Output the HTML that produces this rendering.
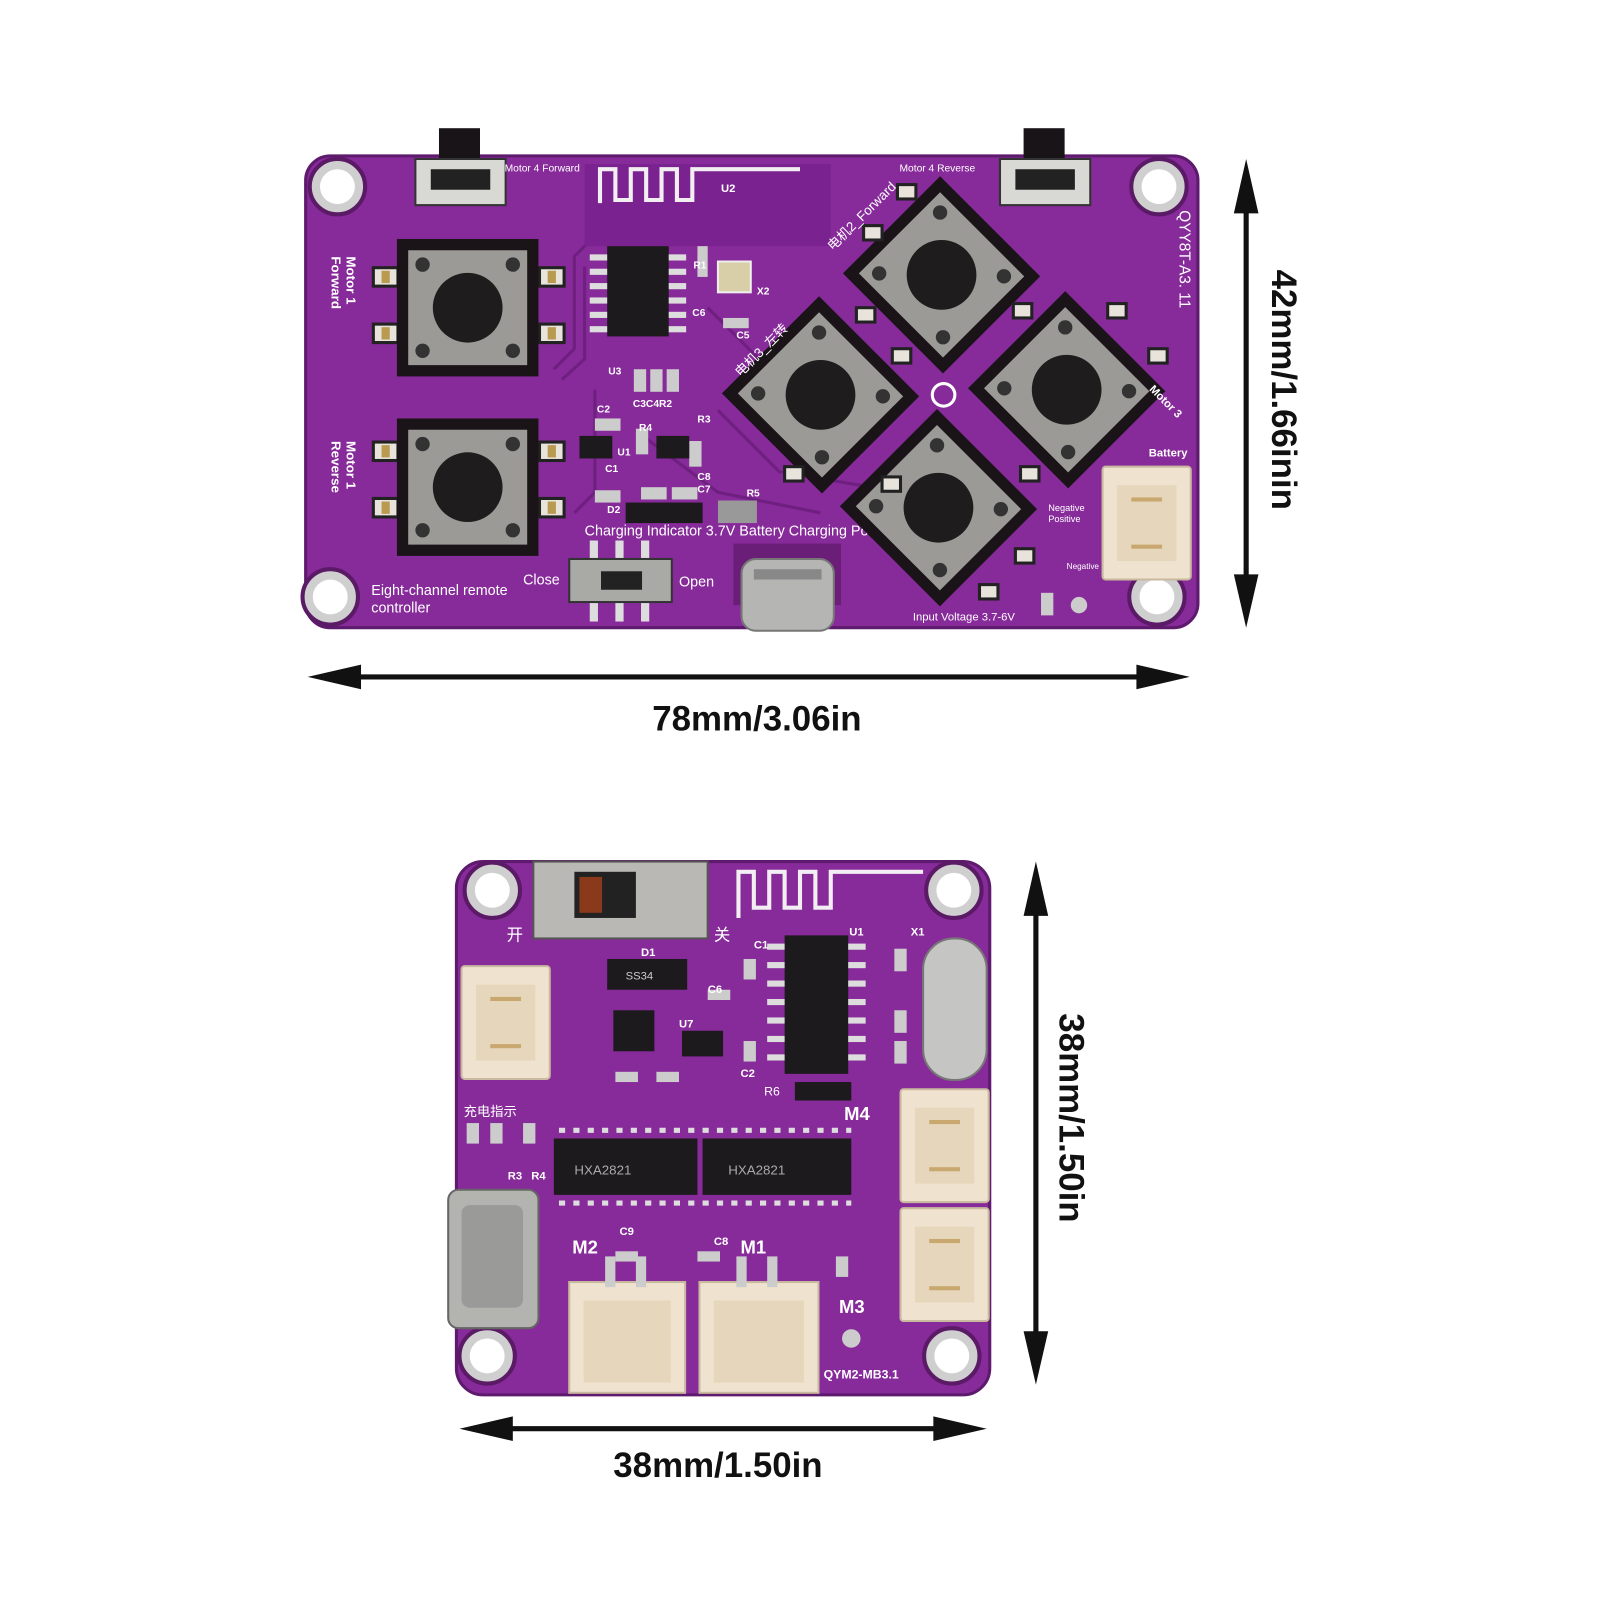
<!DOCTYPE html>
<html><head><meta charset="utf-8"><style>
html,body{margin:0;padding:0;background:#fff;width:1600px;height:1600px;overflow:hidden}
svg{display:block}
text{font-family:"Liberation Sans","Noto Sans CJK SC",sans-serif}
</style></head><body>
<svg width="1600" height="1600" viewBox="0 0 1560 1560" xmlns="http://www.w3.org/2000/svg">
<defs>
<g id="btn">
  <rect x="-69" y="-67" width="138" height="134" fill="#1a1418"/>
  <rect x="-58" y="-56" width="116" height="112" fill="#9c9a96"/>
  <circle cx="-44" cy="-42" r="7" fill="#333"/><circle cx="44" cy="-42" r="7" fill="#333"/>
  <circle cx="-44" cy="42" r="7" fill="#333"/><circle cx="44" cy="42" r="7" fill="#333"/>
  <circle cx="0" cy="0" r="34" fill="#1e1c1c"/>
</g>
<g id="pad"><rect x="-12" y="-9" width="24" height="18" fill="#e8e4dc" stroke="#222" stroke-width="3"/><rect x="-4" y="-6" width="8" height="12" fill="#b89a50"/></g>
<g id="hole"><circle r="27" fill="#cfcfcf" stroke="#5a1a66" stroke-width="4"/><circle r="17" fill="#fff"/></g>
<g id="conn"><rect x="0" y="0" width="86" height="110" rx="3" fill="#efe3cf" stroke="#c9b99e" stroke-width="2"/><rect x="14" y="18" width="58" height="74" fill="#e6d6bb"/><rect x="28" y="30" width="30" height="4" fill="#c9a870"/><rect x="28" y="76" width="30" height="4" fill="#c9a870"/></g>
</defs>

<!-- TOP BOARD -->
<rect x="298" y="152" width="870" height="460" rx="24" fill="#872a9a" stroke="#5e1a6c" stroke-width="3"/>
<g stroke="#6f1f80" stroke-width="3" fill="none">
  <path d="M540 360 L560 340 L560 250 L580 230"/><path d="M548 370 L570 350 L570 260"/>
  <path d="M560 500 L580 480 L580 380"/><path d="M700 400 L760 460 L1000 500"/>
  <path d="M690 300 L740 350"/><path d="M620 420 L700 480 L800 500"/>
</g>
<use href="#hole" x="329" y="182"/><use href="#hole" x="1130" y="182"/>
<use href="#hole" x="322" y="582"/><use href="#hole" x="1128" y="582"/>
<!-- antenna -->
<rect x="570" y="160" width="240" height="80" fill="#7a2390"/>
<path d="M585 198 V165 H600 V195 H615 V165 H630 V195 H645 V165 H660 V195 H675 V165 H780" stroke="#f2eef2" stroke-width="4" fill="none"/>
<text x="703" y="187" font-size="11" fill="#fff" font-weight="bold">U2</text>
<!-- small side switches -->
<rect x="428" y="125" width="40" height="32" fill="#181418"/>
<rect x="405" y="155" width="88" height="45" fill="#d8d8d4" stroke="#333" stroke-width="2"/>
<rect x="420" y="165" width="58" height="20" fill="#222"/>
<rect x="998" y="125" width="40" height="32" fill="#181418"/>
<rect x="975" y="155" width="88" height="45" fill="#d8d8d4" stroke="#333" stroke-width="2"/>
<rect x="990" y="165" width="58" height="20" fill="#222"/>
<text x="492" y="167" font-size="10" fill="#fff">Motor 4 Forward</text>
<text x="877" y="167" font-size="10" fill="#fff">Motor 4 Reverse</text>
<!-- left buttons -->
<use href="#pad" x="376" y="270"/><use href="#pad" x="376" y="325"/><use href="#pad" x="538" y="270"/><use href="#pad" x="538" y="325"/>
<use href="#btn" x="456" y="300"/>
<use href="#pad" x="376" y="440"/><use href="#pad" x="376" y="495"/><use href="#pad" x="538" y="440"/><use href="#pad" x="538" y="495"/>
<use href="#btn" x="456" y="475"/>
<text transform="translate(338,250) rotate(90)" font-size="13" fill="#fff" font-weight="bold">Motor 1</text>
<text transform="translate(323,250) rotate(90)" font-size="13" fill="#fff" font-weight="bold">Forward</text>
<text transform="translate(338,430) rotate(90)" font-size="13" fill="#fff" font-weight="bold">Motor 1</text>
<text transform="translate(323,430) rotate(90)" font-size="13" fill="#fff" font-weight="bold">Reverse</text>
<!-- IC -->
<rect x="592" y="240" width="60" height="88" fill="#1c1a1c"/>
<g fill="#ddd"><rect x="575" y="248" width="17" height="6"/><rect x="575" y="262" width="17" height="6"/><rect x="575" y="276" width="17" height="6"/><rect x="575" y="290" width="17" height="6"/><rect x="575" y="304" width="17" height="6"/><rect x="575" y="318" width="17" height="6"/>
<rect x="652" y="248" width="17" height="6"/><rect x="652" y="262" width="17" height="6"/><rect x="652" y="276" width="17" height="6"/><rect x="652" y="290" width="17" height="6"/><rect x="652" y="304" width="17" height="6"/><rect x="652" y="318" width="17" height="6"/></g>
<rect x="700" y="255" width="32" height="30" fill="#d8cfa8" stroke="#eee" stroke-width="2"/>
<g fill="#ccc"><rect x="680" y="240" width="10" height="30"/><rect x="705" y="310" width="25" height="10"/><rect x="618" y="360" width="12" height="22"/><rect x="634" y="360" width="12" height="22"/><rect x="650" y="360" width="12" height="22"/><rect x="580" y="408" width="25" height="12"/><rect x="580" y="478" width="25" height="12"/><rect x="620" y="418" width="12" height="25"/><rect x="672" y="430" width="12" height="25"/><rect x="625" y="475" width="25" height="12"/><rect x="655" y="475" width="25" height="12"/></g>
<rect x="565" y="425" width="32" height="22" fill="#1c1a1c"/><rect x="640" y="425" width="32" height="22" fill="#1c1a1c"/>
<rect x="610" y="490" width="75" height="20" fill="#1c1a1c"/><rect x="700" y="488" width="38" height="22" fill="#999"/>
<g font-size="10" fill="#fff" font-weight="bold"><text x="593" y="365">U3</text><text x="617" y="397">C3C4R2</text><text x="582" y="402">C2</text><text x="623" y="420">R4</text><text x="680" y="412">R3</text><text x="602" y="444">U1</text><text x="590" y="460">C1</text><text x="680" y="468">C8</text><text x="680" y="480">C7</text><text x="728" y="484">R5</text><text x="592" y="500">D2</text><text x="676" y="262">R1</text><text x="675" y="308">C6</text><text x="718" y="330">C5</text><text x="738" y="287">X2</text></g>
<text x="570" y="522" font-size="14" fill="#fff">Charging Indicator 3.7V Battery Charging Port</text>
<!-- slide switch -->
<g fill="#ddd"><rect x="575" y="527" width="8" height="20"/><rect x="600" y="527" width="8" height="20"/><rect x="625" y="527" width="8" height="20"/><rect x="575" y="586" width="8" height="20"/><rect x="600" y="586" width="8" height="20"/><rect x="625" y="586" width="8" height="20"/></g>
<rect x="555" y="545" width="100" height="42" fill="#a9a9a6" stroke="#333" stroke-width="2"/>
<rect x="586" y="557" width="40" height="18" fill="#222"/>
<text x="510" y="570" font-size="14" fill="#fff">Close</text><text x="662" y="572" font-size="14" fill="#fff">Open</text>
<text x="362" y="580" font-size="14" fill="#fff">Eight-channel remote</text><text x="362" y="597" font-size="14" fill="#fff">controller</text>
<!-- USB-C -->
<rect x="715" y="530" width="105" height="60" fill="#6a1e78"/>
<rect x="723" y="545" width="90" height="70" rx="14" fill="#b5b5b3" stroke="#777" stroke-width="2"/>
<rect x="735" y="555" width="66" height="10" fill="#888"/>
<!-- diamond buttons -->
<g transform="translate(918,268) rotate(45)"><use href="#btn"/></g>
<g transform="translate(800,385) rotate(45)"><use href="#btn"/></g>
<g transform="translate(1040,380) rotate(45)"><use href="#btn"/></g>
<g transform="translate(915,495) rotate(45)"><use href="#btn"/></g>
<circle cx="920" cy="385" r="11" fill="none" stroke="#fff" stroke-width="3"/>
<g fill="#e8e4dc" stroke="#222" stroke-width="3"><rect x="842" y="220" width="18" height="14"/><rect x="988" y="296" width="18" height="14"/><rect x="1080" y="296" width="18" height="14"/><rect x="765" y="455" width="18" height="14"/><rect x="835" y="300" width="18" height="14"/><rect x="1120" y="340" width="18" height="14"/><rect x="995" y="455" width="18" height="14"/><rect x="875" y="180" width="18" height="14"/><rect x="955" y="570" width="18" height="14"/><rect x="990" y="535" width="18" height="14"/><rect x="870" y="340" width="18" height="14"/><rect x="860" y="465" width="18" height="14"/></g>
<text transform="translate(1150,205) rotate(90)" font-size="15" fill="#fff" font-family="Liberation Serif,serif">QYY8T-A3. 11</text>
<text transform="translate(812,245) rotate(-45)" font-size="13" fill="#fff">电机2_Forward</text>
<text transform="translate(722,368) rotate(-45)" font-size="13" fill="#fff">电机3_左转</text>
<text transform="translate(1120,380) rotate(45)" font-size="11" fill="#fff" font-weight="bold">Motor 3</text>
<text x="1120" y="445" font-size="11" fill="#fff" font-weight="bold">Battery</text>
<text x="1022" y="498" font-size="9" fill="#fff">Negative</text><text x="1022" y="509" font-size="9" fill="#fff">Positive</text>
<text x="1040" y="555" font-size="8" fill="#fff">Negative</text>
<text x="890" y="605" font-size="11" fill="#fff">Input Voltage 3.7-6V</text>
<rect x="1015" y="578" width="12" height="22" fill="#ccc"/><circle cx="1052" cy="590" r="8" fill="#ccc"/>
<use href="#conn" x="1075" y="455" transform="translate(0,0)"/>

<!-- TOP ARROWS -->
<line x1="330" y1="660" x2="1130" y2="660" stroke="#111" stroke-width="5"/>
<polygon points="300,660 352,648 352,672" fill="#111"/><polygon points="1160,660 1108,648 1108,672" fill="#111"/>
<text x="738" y="712" font-size="34" font-weight="bold" text-anchor="middle" fill="#111">78mm/3.06in</text>
<line x1="1215" y1="185" x2="1215" y2="585" stroke="#111" stroke-width="5"/>
<polygon points="1215,155 1203,208 1227,208" fill="#111"/><polygon points="1215,612 1203,560 1227,560" fill="#111"/>
<text transform="translate(1240,380) rotate(90)" font-size="34" font-weight="bold" text-anchor="middle" fill="#111">42mm/1.66inin</text>

<!-- BOTTOM BOARD -->
<rect x="445" y="840" width="520" height="520" rx="26" fill="#872a9a" stroke="#5e1a6c" stroke-width="3"/>
<use href="#hole" x="480" y="868"/><use href="#hole" x="930" y="868"/><use href="#hole" x="475" y="1322"/><use href="#hole" x="928" y="1322"/>
<rect x="520" y="840" width="170" height="75" fill="#b9b8b5" stroke="#555" stroke-width="2"/>
<rect x="560" y="850" width="60" height="45" fill="#222"/><rect x="565" y="855" width="22" height="35" fill="#8a3a1a"/>
<text x="494" y="917" font-size="16" fill="#fff">开</text><text x="696" y="917" font-size="16" fill="#fff">关</text>
<path d="M720 895 V850 H735 V885 H750 V850 H765 V885 H780 V850 H795 V885 H810 V850 H900" stroke="#f2eef2" stroke-width="4" fill="none"/>
<rect x="592" y="935" width="78" height="30" fill="#1c1a1c"/><text x="610" y="955" font-size="11" fill="#ccc">SS34</text>
<use href="#conn" x="450" y="942"/>
<rect x="765" y="912" width="62" height="135" fill="#1c1a1c"/>
<g fill="#ddd"><rect x="748" y="920" width="17" height="6"/><rect x="748" y="938" width="17" height="6"/><rect x="748" y="956" width="17" height="6"/><rect x="748" y="974" width="17" height="6"/><rect x="748" y="992" width="17" height="6"/><rect x="748" y="1010" width="17" height="6"/><rect x="748" y="1028" width="17" height="6"/>
<rect x="827" y="920" width="17" height="6"/><rect x="827" y="938" width="17" height="6"/><rect x="827" y="956" width="17" height="6"/><rect x="827" y="974" width="17" height="6"/><rect x="827" y="992" width="17" height="6"/><rect x="827" y="1010" width="17" height="6"/><rect x="827" y="1028" width="17" height="6"/></g>
<rect x="900" y="915" width="62" height="138" rx="30" fill="#c5c5c3" stroke="#777" stroke-width="2"/>
<rect x="598" y="985" width="40" height="40" fill="#1c1a1c"/><rect x="665" y="1005" width="40" height="25" fill="#1c1a1c"/>
<rect x="775" y="1055" width="55" height="18" fill="#1c1a1c"/>
<g fill="#ccc"><rect x="690" y="965" width="22" height="10"/><rect x="725" y="935" width="12" height="20"/><rect x="725" y="1015" width="12" height="20"/><rect x="872" y="985" width="12" height="22"/><rect x="872" y="1015" width="12" height="22"/><rect x="872" y="925" width="12" height="22"/><rect x="600" y="1045" width="22" height="10"/><rect x="640" y="1045" width="22" height="10"/><rect x="455" y="1095" width="12" height="20"/><rect x="478" y="1095" width="12" height="20"/><rect x="510" y="1095" width="12" height="20"/><rect x="600" y="1220" width="22" height="10"/><rect x="680" y="1220" width="22" height="10"/><rect x="815" y="1225" width="12" height="20"/></g>
<text x="452" y="1088" font-size="13" fill="#fff">充电指示</text>
<text x="745" y="1068" font-size="12" fill="#fff">R6</text>
<!-- wide ICs -->
<rect x="540" y="1110" width="140" height="55" fill="#1c1a1c"/><rect x="685" y="1110" width="145" height="55" fill="#1c1a1c"/>
<g stroke="#ddd" stroke-width="5" stroke-dasharray="6 8"><line x1="545" y1="1102" x2="830" y2="1102"/><line x1="545" y1="1173" x2="830" y2="1173"/></g>
<text x="560" y="1145" font-size="13" fill="#aaa">HXA2821</text><text x="710" y="1145" font-size="13" fill="#aaa">HXA2821</text>
<use href="#conn" x="878" y="1062"/><use href="#conn" x="878" y="1178"/>
<g transform="translate(555,1250)"><rect width="113" height="108" fill="#efe3cf" stroke="#c9b99e" stroke-width="2"/><rect x="14" y="18" width="85" height="80" fill="#e6d6bb"/></g>
<g transform="translate(682,1250)"><rect width="116" height="108" fill="#efe3cf" stroke="#c9b99e" stroke-width="2"/><rect x="14" y="18" width="88" height="80" fill="#e6d6bb"/></g>
<g fill="#ccc"><rect x="590" y="1225" width="10" height="30"/><rect x="620" y="1225" width="10" height="30"/><rect x="718" y="1225" width="10" height="30"/><rect x="748" y="1225" width="10" height="30"/></g>
<rect x="437" y="1160" width="88" height="135" rx="10" fill="#b3b3b0" stroke="#666" stroke-width="2"/>
<rect x="450" y="1175" width="60" height="100" rx="8" fill="#9a9a98"/>
<g font-size="18" fill="#fff" font-weight="bold"><text x="823" y="1092">M4</text><text x="558" y="1222">M2</text><text x="722" y="1222">M1</text><text x="818" y="1280">M3</text></g>
<g font-size="11" fill="#fff" font-weight="bold"><text x="828" y="912">U1</text><text x="888" y="912">X1</text><text x="735" y="925">C1</text><text x="625" y="932">D1</text><text x="690" y="968">C6</text><text x="662" y="1002">U7</text><text x="604" y="1204">C9</text><text x="696" y="1214">C8</text><text x="495" y="1150">R3</text><text x="518" y="1150">R4</text><text x="722" y="1050">C2</text></g>
<text x="803" y="1344" font-size="12" fill="#fff" font-family="Liberation Mono,monospace" font-weight="bold">QYM2-MB3.1</text>
<circle cx="830" cy="1305" r="9" fill="#ccc"/>

<!-- BOTTOM ARROWS -->
<line x1="478" y1="1393" x2="932" y2="1393" stroke="#111" stroke-width="5"/>
<polygon points="448,1393 500,1381 500,1405" fill="#111"/><polygon points="962,1393 910,1381 910,1405" fill="#111"/>
<text x="700" y="1440" font-size="34" font-weight="bold" text-anchor="middle" fill="#111">38mm/1.50in</text>
<line x1="1010" y1="870" x2="1010" y2="1322" stroke="#111" stroke-width="5"/>
<polygon points="1010,840 998,893 1022,893" fill="#111"/><polygon points="1010,1350 998,1298 1022,1298" fill="#111"/>
<text transform="translate(1033,1090) rotate(90)" font-size="34" font-weight="bold" text-anchor="middle" fill="#111">38mm/1.50in</text>
</svg>
</body></html>
